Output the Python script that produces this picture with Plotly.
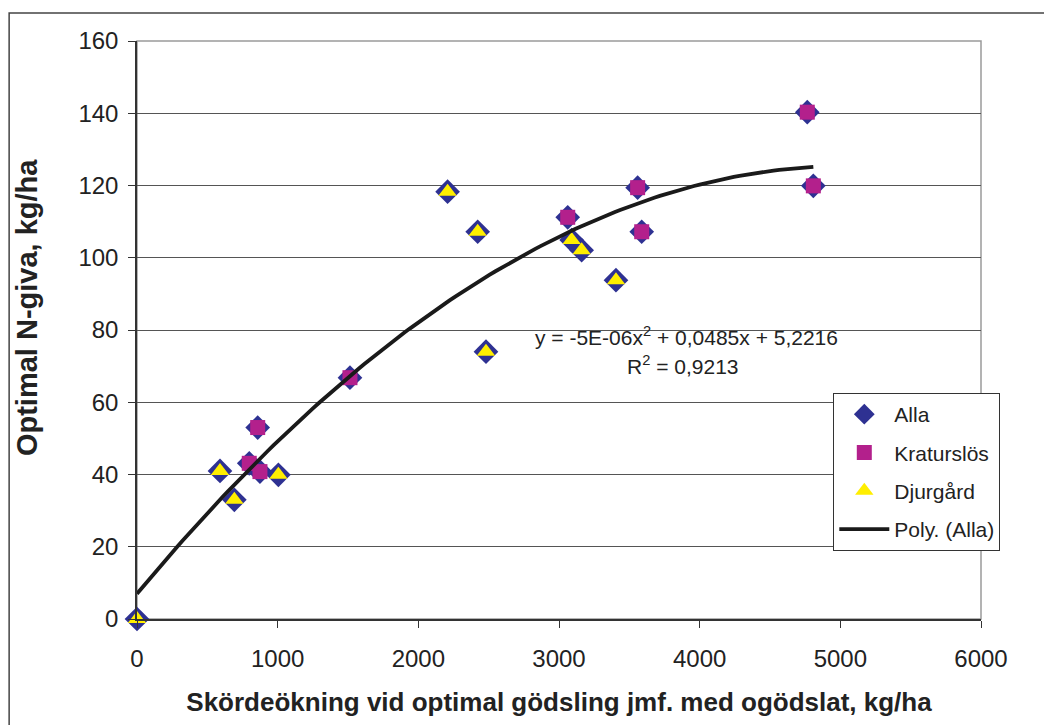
import numpy as np
import plotly.graph_objects as go

# Data
kraturslos_x = [858, 798, 874, 1514, 3062, 3559, 3588, 4765, 4808]
kraturslos_y = [53.0, 43.1, 40.8, 66.8, 111.2, 119.4, 107.2, 140.3, 119.9]

djurgard_x = [0, 590, 692, 1005, 2208, 2422, 2481, 3090, 3161, 3405]
djurgard_y = [0.0, 41.0, 33.0, 39.9, 118.3, 107.2, 74.0, 104.9, 102.1, 93.8]

alla_x = djurgard_x + kraturslos_x
alla_y = djurgard_y + kraturslos_y

x_ticks = [0, 1000, 2000, 3000, 4000, 5000, 6000]
y_ticks = [0, 20, 40, 60, 80, 100, 120, 140, 160]

equation_text = "y = -5E-06x<sup>2</sup> + 0,0485x + 5,2216"
r2_text = "R<sup>2</sup> = 0,9213"
x_title = "<b>Skördeökning vid optimal gödsling jmf. med ogödslat, kg/ha</b>"
y_title = "<b>Optimal N-giva, kg/ha</b>"

# Polynomial (order 2) trendline of "Alla", as in the original chart
coef = np.polyfit(alla_x, alla_y, 2)
trend_x = np.linspace(0, max(alla_x), 120)
trend_y = np.polyval(coef, trend_x)

FONT = "Liberation Sans, Arial, sans-serif"
TXT = "#222222"

fig = go.Figure()
fig.add_trace(go.Scatter(
    x=alla_x, y=alla_y, mode="markers", name="Alla", cliponaxis=False,
    legendgroup="a",
    marker=dict(symbol="diamond", size=19, color="#2E3192", line=dict(width=0))))
fig.add_trace(go.Scatter(
    x=kraturslos_x, y=kraturslos_y, mode="markers", name="Kraturslös", cliponaxis=False,
    legendgroup="b",
    marker=dict(symbol="square", size=15, color="#B3208C", line=dict(width=0))))
fig.add_trace(go.Scatter(
    x=djurgard_x, y=djurgard_y, mode="markers", name="Djurgård", cliponaxis=False,
    legendgroup="c",
    marker=dict(symbol="triangle-up", size=16, color="#FFEE00", line=dict(width=0))))
fig.add_trace(go.Scatter(
    x=trend_x, y=trend_y, mode="lines", name="Poly. (Alla)", legendgroup="d",
    line=dict(color="#1a1a1a", width=3.8)))

fig.update_layout(
    width=1044, height=717,
    margin=dict(l=129, r=71, t=33, b=106),
    paper_bgcolor="white", plot_bgcolor="white",
    font=dict(family=FONT, color=TXT, size=20),
    showlegend=True,
    legend=dict(
        x=0.825, y=0.391, xanchor="left", yanchor="top",
        bgcolor="white", bordercolor="#333333", borderwidth=1,
        font=dict(family=FONT, size=21, color=TXT),
        itemwidth=50, tracegroupgap=8,
    ),
    xaxis=dict(
        range=[0, 6000], tickvals=x_ticks, ticks="outside", ticklen=7,
        tickcolor="#333333", showline=True, linecolor="#333333", linewidth=1.5,
        showgrid=False, zeroline=False, ticklabelstandoff=10,
        tickfont=dict(family=FONT, size=24, color=TXT),
        title=dict(text=x_title,
                   font=dict(family=FONT, size=26, color=TXT), standoff=22),
    ),
    yaxis=dict(
        range=[0, 160], tickvals=y_ticks, ticks="outside", ticklen=7,
        tickcolor="#333333", showline=True, linecolor="#333333", linewidth=1.5,
        showgrid=True, gridcolor="#555555", gridwidth=1.2, zeroline=False,
        ticklabelstandoff=5,
        tickfont=dict(family=FONT, size=24, color=TXT),
    ),
    shapes=[
        # plot-area border (top/right in grey)
        dict(type="rect", xref="paper", yref="paper", x0=0, y0=0, x1=1, y1=1,
             line=dict(color="#9a9a9a", width=1.5), layer="below"),
        # outer chart frame
        dict(type="rect", xref="paper", yref="paper", x0=-0.1515, y0=-0.25,
             x1=1.2, y1=1.0484, line=dict(color="#444444", width=1.5), layer="below"),
    ],
    annotations=[
        dict(x=-0.1303, y=0.538, xref="paper", yref="paper", text=y_title,
             textangle=-90, showarrow=False, xanchor="center", yanchor="middle",
             font=dict(family=FONT, size=29, color=TXT)),
        dict(x=3903, y=78.3, xref="x", yref="y", text=equation_text, showarrow=False,
             xanchor="center", yanchor="middle",
             font=dict(family=FONT, size=21, color=TXT)),
        dict(x=3880, y=70.3, xref="x", yref="y", text=r2_text, showarrow=False,
             xanchor="center", yanchor="middle",
             font=dict(family=FONT, size=21, color=TXT)),
    ],
)

fig.write_html("out.html")
